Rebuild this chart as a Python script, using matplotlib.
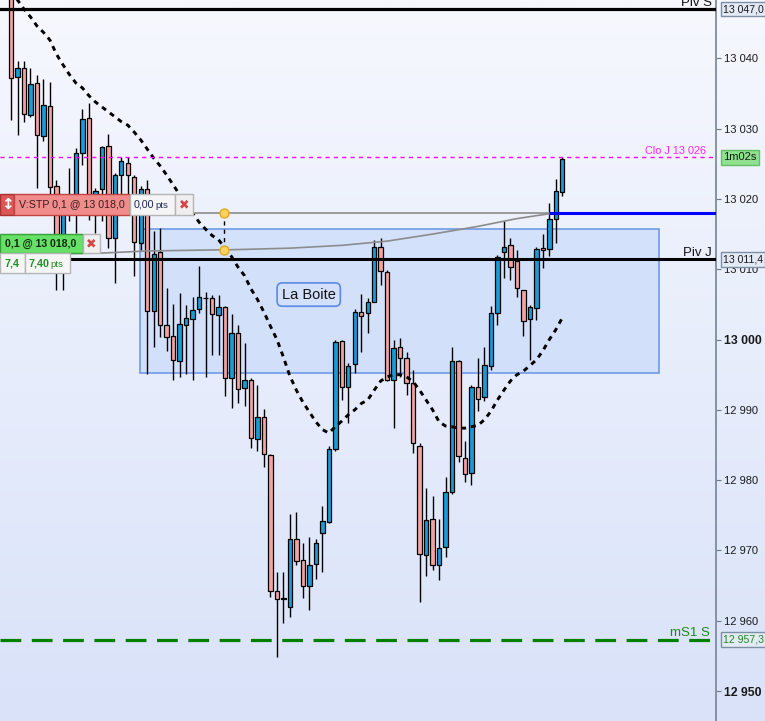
import numpy as np
import matplotlib
matplotlib.use("Agg")
import matplotlib.pyplot as plt
from matplotlib.patches import Rectangle, FancyBboxPatch
from matplotlib.colors import LinearSegmentedColormap

plt.rcParams['font.family'] = ['Liberation Sans', 'DejaVu Sans']

# ---------------- data ----------------
opens = [13052.0, 13037.3, 13038.6, 13031.9, 13036.5, 13028.9, 13033.2, 13021.8, 13012.0, 13018.5,
         13019.9, 13026.5, 13031.5, 13017.7, 13021.4, 13027.6, 13014.5, 13023.4, 13025.1, 13023.1,
         13013.7, 13021.4, 13004.0, 13012.4, 13002.0, 13000.5, 12996.9, 13002.0, 13002.9, 13004.3,
         13005.9, 13005.9, 13003.5, 13004.6, 12994.6, 13000.9, 12993.1, 12994.3, 12985.8, 12989.0,
         12983.6, 12964.3, 12963.1, 12961.9, 12971.6, 12968.7, 12965.0, 12968.1, 12972.5, 12974.0,
         12984.4, 12999.8, 12993.2, 12996.5, 13003.9, 13003.8, 13005.4, 13013.1, 13009.6, 12994.3,
         12998.9, 12997.4, 12993.8, 12984.9, 12969.3, 12974.5, 12967.9, 12970.5, 12978.3, 12997.0,
         12983.1, 12981.0, 12993.3, 12991.8, 12996.3, 13003.8, 13012.4, 13013.4, 13011.2, 13007.0,
         13002.9, 13004.5, 13013.0, 13012.9, 13017.1, 13021.0]
highs = [13055.0, 13039.6, 13039.6, 13038.6, 13037.7, 13037.1, 13036.7, 13022.7, 13020.6, 13024.4,
         13027.2, 13032.8, 13033.6, 13021.6, 13027.6, 13029.2, 13023.7, 13026.0, 13026.0, 13023.4,
         13021.8, 13022.7, 13015.5, 13015.8, 13007.3, 13005.1, 13006.6, 13004.9, 13006.0, 13010.5,
         13006.8, 13006.4, 13006.4, 13004.8, 13003.6, 13002.0, 12999.5, 12994.5, 12993.6, 12990.1,
         12983.7, 12967.0, 12966.9, 12975.2, 12975.4, 12971.0, 12971.9, 12971.7, 12976.3, 12984.8,
         13000.0, 13000.0, 12996.6, 13004.3, 13006.5, 13005.9, 13014.1, 13014.4, 13009.9, 13000.0,
         13000.2, 12998.2, 12995.7, 12985.3, 12978.9, 12977.8, 12974.5, 12980.4, 12998.9, 12997.1,
         12985.5, 12993.6, 12997.4, 12998.9, 13004.8, 13012.0, 13016.8, 13014.4, 13012.8, 13007.1,
         13004.9, 13013.2, 13015.0, 13019.4, 13022.8, 13025.9]
lows = [13031.2, 13029.1, 13031.0, 13031.7, 13021.5, 13028.3, 13019.2, 13007.0, 13007.0, 13016.8,
        13015.2, 13024.9, 13017.0, 13015.2, 13016.8, 13013.0, 13008.0, 13020.3, 13019.9, 13009.0,
        13012.8, 12995.1, 12998.9, 13000.4, 12998.4, 12994.3, 12994.7, 12995.1, 12994.2, 13003.8,
        12994.7, 12997.8, 12997.8, 12991.9, 12990.3, 12991.0, 12990.5, 12984.6, 12984.1, 12981.8,
        12963.4, 12954.8, 12959.7, 12960.5, 12968.0, 12963.2, 12961.6, 12965.9, 12966.9, 12973.9,
        12984.2, 12991.4, 12988.1, 12995.2, 12998.2, 13000.9, 13005.3, 13007.8, 12994.1, 12987.4,
        12994.7, 12992.1, 12983.8, 12962.7, 12966.3, 12967.2, 12965.8, 12969.1, 12978.0, 12982.6,
        12979.7, 12979.3, 12989.8, 12991.2, 12995.7, 13002.1, 13008.7, 13008.5, 13006.1, 13000.5,
        12997.1, 13002.8, 13010.2, 13011.9, 13013.7, 13020.4]
closes = [13037.2, 13038.6, 13032.1, 13036.3, 13029.1, 13033.3, 13021.7, 13012.8, 13018.4, 13019.8,
          13026.5, 13031.4, 13019.9, 13021.1, 13027.4, 13014.4, 13023.4, 13025.4, 13023.4, 13013.9,
          13021.4, 13004.0, 13012.2, 13002.0, 13000.3, 12997.1, 13002.2, 13003.1, 13004.2, 13006.0,
          13005.9, 13003.6, 13004.6, 12994.5, 13000.9, 12992.9, 12994.3, 12986.0, 12989.0, 12983.7,
          12964.2, 12963.1, 12963.1, 12971.6, 12968.5, 12965.0, 12967.9, 12971.0, 12974.2, 12984.4,
          12999.6, 12993.2, 12996.2, 13003.9, 13003.3, 13005.4, 13013.1, 13009.8, 12994.3, 12998.8,
          12997.4, 12993.8, 12985.3, 12969.5, 12974.4, 12968.0, 12970.3, 12978.3, 12997.0, 12983.5,
          12980.9, 12993.2, 12991.5, 12996.4, 13003.8, 13011.8, 13013.2, 13010.3, 13007.3, 13002.7,
          13004.6, 13012.9, 13012.7, 13017.2, 13021.1, 13025.7]
ma_values = [13049.7, 13048.3, 13047.0, 13045.9, 13044.6, 13043.7, 13042.6, 13040.6, 13039.1, 13037.7,
             13036.5, 13035.8, 13034.7, 13033.8, 13033.1, 13032.4, 13031.7, 13031.0, 13030.5, 13029.5,
             13028.4, 13027.1, 13025.8, 13024.7, 13023.4, 13022.0, 13020.6, 13019.2, 13018.0, 13016.7,
             13015.7, 13014.8, 13014.2, 13013.0, 13011.8, 13010.3, 13009.1, 13007.2, 13005.7, 13003.9,
             13001.9, 13000.0, 12997.5, 12994.8, 12992.8, 12991.1, 12989.7, 12988.3, 12987.2, 12986.7,
             12987.6, 12988.4, 12989.3, 12990.0, 12990.9, 12991.4, 12992.8, 12994.1, 12994.7, 12995.0,
             12995.0, 12994.7, 12994.0, 12992.8, 12991.4, 12990.0, 12988.3, 12987.7, 12987.6, 12987.4,
             12987.4, 12987.6, 12987.8, 12988.6, 12989.8, 12991.4, 12992.8, 12994.1, 12995.0, 12995.5,
             12996.3, 12997.1, 12998.4, 13000.0, 13001.4, 13003.1]
curve_idx = [-1.7, 14, 21, 28, 35, 43, 51, 58, 65, 72, 78, 83]
curve_price = [13012.1, 13012.3, 13012.6, 13012.7, 13012.8, 13013.0, 13013.4, 13014.0, 13015.0,
               13016.1, 13017.2, 13017.9]

piv_s = 13047.0
piv_j = 13011.4
clo_j = 13025.9
ms1_s = 12957.3
order_price = 13018.0
order_bar = 83
marker_bar = 32.9
box_bars = (19.9, 99.95)
box_prices = (12995.2, 13015.7)
label_bar, label_price = 45.9, 13006.4
yticks = [12950, 12960, 12970, 12980, 12990, 13000, 13010, 13020, 13030, 13040]
ytick_labels = ['12 950', '12 960', '12 970', '12 980', '12 990', '13 000', '13 010', '13 020', '13 030', '13 040']
bold_ticks = ['13 000', '12 950']

# ---------------- figure ----------------
W, H = 765, 721
fig = plt.figure(figsize=(W / 100, H / 100), dpi=100)

bg = fig.add_axes([0, 0, 1, 1], zorder=-5)
cmap = LinearSegmentedColormap.from_list('bg', ['#f6f8fe', '#d9e2f9'])
bg.imshow(np.linspace(0, 1, 256).reshape(-1, 1), aspect='auto', cmap=cmap, extent=[0, 1, 0, 1])
bg.set_axis_off()

ax = fig.add_axes([0, 0, 716 / W, 1])
ax.patch.set_alpha(0)
ax.set_xlim(-1.7, 108.7)
ax.set_ylim(12945.74, 13048.3)

# box "La Boite"
ax.add_patch(Rectangle((box_bars[0], box_prices[0]), box_bars[1] - box_bars[0], box_prices[1] - box_prices[0],
                       facecolor=(0.78, 0.85, 0.98, 0.65), edgecolor='#6f9be6', lw=1.2, zorder=1))
ax.text(label_bar, label_price, 'La Boite', ha='center', va='center', fontsize=10.5, color='#111111', zorder=9,
        bbox=dict(boxstyle='round,pad=0.32,rounding_size=0.35', fc='#d3e0fb', ec='#5a8ae4', lw=1.2))

# candles
idx = np.arange(len(opens))
o = np.array(opens); c = np.array(closes)
ax.vlines(idx, lows, highs, color='black', lw=1.0, zorder=3)
cols = np.where(c > o, '#1b9ad6', np.where(c < o, '#f4a3a3', 'black'))
ax.bar(idx, np.maximum(np.abs(c - o), 0.08), bottom=np.minimum(o, c), width=0.68,
       color=cols, edgecolor='black', lw=0.9, zorder=4)

# moving average
ax.plot(idx, ma_values, color='black', lw=2.1, dashes=(1.7, 1.7), zorder=5)

# order lines
ax.plot([-1.7, order_bar], [order_price, order_price], color='#8c8c8c', lw=1.2, zorder=6)
ax.plot(curve_idx, curve_price, color='#8c8c8c', lw=1.2, zorder=6)
ax.plot([order_bar, 108.7], [order_price, order_price], color='#0000ff', lw=2.2, zorder=7, solid_capstyle='butt')
mk_low = np.interp(marker_bar, curve_idx, curve_price)
ax.plot([marker_bar, marker_bar], [mk_low, order_price], color='black', lw=1.0, dashes=(3, 3), zorder=7)
ax.plot([marker_bar, marker_bar], [order_price, mk_low], 'o', ms=6.5, mfc='#ffd35c', mec='#e5a820', mew=1, zorder=8)

# horizontal levels
ax.axhline(piv_s, color='black', lw=2.3, zorder=6)
ax.axhline(piv_j, color='black', lw=2.2, zorder=6)
ax.axhline(clo_j, color='#ff00ff', lw=1.0, dashes=(3, 3), zorder=6)
ax.axhline(ms1_s, color='#008000', lw=2.3, dashes=(6.5, 3.3), zorder=6)

def level_label(price, text, color, fs, dx):
    ax.annotate(text, xy=(1, price), xycoords=('axes fraction', 'data'), xytext=(dx, 3.5),
                textcoords='offset pixels', ha='right', va='baseline', fontsize=fs, color=color,
                annotation_clip=False, zorder=9)

level_label(piv_s, 'Piv S', '#111111', 9.5, -4)
level_label(piv_j, 'Piv J', '#111111', 9.5, -4)
level_label(clo_j, 'Clo J 13 026', '#ff22ff', 7.8, -10)
level_label(ms1_s, 'mS1 S', '#1a8a1a', 9.5, -6)

# right axis
for s in ['left', 'top', 'bottom']:
    ax.spines[s].set_visible(False)
ax.spines['right'].set_color('#7d8c9c')
ax.spines['right'].set_linewidth(1.3)
ax.set_xticks([])
ax.yaxis.tick_right()
ax.set_yticks(yticks)
ax.set_yticklabels(ytick_labels)
ax.tick_params(axis='y', direction='out', length=3.5, width=0.8, colors='#6a7888', pad=2.5,
               labelsize=8, labelcolor='#1a1a1a')
for t in ax.get_yticklabels():
    if t.get_text() in bold_ticks:
        t.set_fontweight('bold')
        t.set_fontsize(8.8)

def axis_box(price, text, fc, ec, tc, fs=7.6):
    ax.annotate(text, xy=(1, price), xycoords=('axes fraction', 'data'), xytext=(7, 0),
                textcoords='offset pixels', ha='left', va='center', fontsize=fs, color=tc,
                annotation_clip=False, zorder=12,
                bbox=dict(boxstyle='square,pad=0.22', fc=fc, ec=ec, lw=1.0))

axis_box(piv_s, '13 047,0', '#e3eaf6', '#7f8fa3', '#1a1a1a')
axis_box(piv_j, '13 011,4', '#e3eaf6', '#7f8fa3', '#1a1a1a')
axis_box(ms1_s, '12 957,3', '#e3eaf6', '#7f8fa3', '#1f8a1f')
axis_box(clo_j, '1m02s', '#8fe08f', '#62c062', '#102010', fs=8)

# order tags (figure pixel coordinates, y from top)
def pbox(x0, y0, x1, y1, fc, ec):
    fig.add_artist(FancyBboxPatch((x0 / W, 1 - y1 / H), (x1 - x0) / W, (y1 - y0) / H,
                                  boxstyle='square,pad=0', transform=fig.transFigure,
                                  fc=fc, ec=ec, lw=1.0, zorder=20))

def ptext(x, y, s, **kw):
    kw.setdefault('va', 'center')
    kw.setdefault('fontsize', 7.7)
    fig.text(x / W, 1 - y / H, s, zorder=21, **kw)

pbox(0, 194, 14, 215, '#d95757', '#a83232')
ptext(7, 204.5, '↕', color='white', ha='center', fontsize=11, fontweight='bold', family='DejaVu Sans')
pbox(14, 194, 130, 215, '#f18c8c', '#c24444')
ptext(19, 204.5, 'V:STP 0,1 @ 13 018,0', color='#3a1c1c')
pbox(130, 194, 175, 215, '#f5f5f5', '#b5b5b5')
ptext(134, 204.5, '0,00', color='#1a2a5a')
ptext(155, 205.5, 'pts', color='#1a2a5a', fontsize=6.8)
pbox(175, 194, 193, 215, '#efefef', '#b5b5b5')
ptext(184, 204.5, '✖', color='#d64545', ha='center', fontsize=9, family='DejaVu Sans')

pbox(0, 234, 83, 253, '#66e066', '#3aa03a')
ptext(5, 243.5, '0,1 @ 13 018,0', color='#0f2a0f', fontweight='bold', fontsize=7.6)
pbox(83, 234, 100, 253, '#efefef', '#b5b5b5')
ptext(91.5, 243.5, '✖', color='#d64545', ha='center', fontsize=9, family='DejaVu Sans')
pbox(0, 253, 24.7, 273, '#f7f7f7', '#b5b5b5')
ptext(12.3, 263, '7,4', color='#1f8f1f', ha='center', fontweight='bold')
pbox(24.7, 253, 70, 273, '#f7f7f7', '#b5b5b5')
ptext(29, 263, '7,40', color='#1f8f1f', fontweight='bold')
ptext(50, 264, 'pts', color='#1f8f1f', fontsize=6.8)

fig.savefig('out.png', dpi=100)
